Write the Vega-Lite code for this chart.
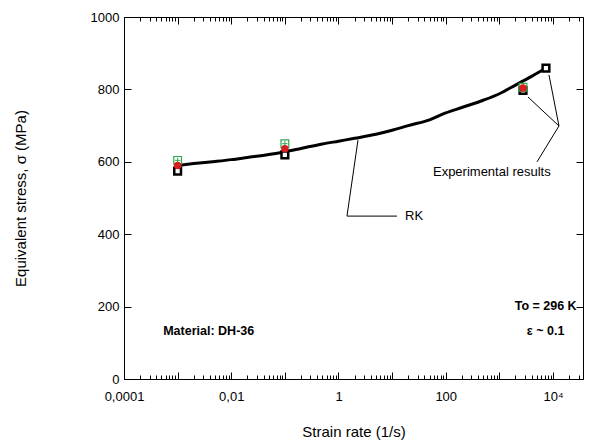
{
  "$schema": "https://vega.github.io/schema/vega-lite/v6.json",
  "width": 459,
  "height": 362,
  "autosize": "none",
  "padding": {"left": 124, "top": 17, "right": 13, "bottom": 66},
  "background": "white",
  "config": {
    "view": {"stroke": "black", "strokeWidth": 1},
    "font": "Liberation Sans",
    "axis": {"domainColor": "black", "tickColor": "black", "labelColor": "black", "titleColor": "black", "titleFontWeight": "normal", "grid": false}
  },
  "datasets": {
    "curve": [
      {"rate": 0.001, "stress": 590},
      {"rate": 0.002, "stress": 595},
      {"rate": 0.005, "stress": 601},
      {"rate": 0.01, "stress": 606},
      {"rate": 0.02, "stress": 612},
      {"rate": 0.05, "stress": 620},
      {"rate": 0.1, "stress": 628},
      {"rate": 0.2, "stress": 637},
      {"rate": 0.5, "stress": 649},
      {"rate": 1, "stress": 657},
      {"rate": 2, "stress": 665},
      {"rate": 5, "stress": 676},
      {"rate": 10, "stress": 687},
      {"rate": 20, "stress": 700},
      {"rate": 50, "stress": 716},
      {"rate": 100, "stress": 735},
      {"rate": 200, "stress": 750},
      {"rate": 500, "stress": 770},
      {"rate": 1000, "stress": 788},
      {"rate": 2000, "stress": 812},
      {"rate": 4000, "stress": 836},
      {"rate": 7400, "stress": 859}
    ],
    "green": [
      {"rate": 0.001, "stress": 604},
      {"rate": 0.1, "stress": 650},
      {"rate": 2760, "stress": 806}
    ],
    "red": [
      {"rate": 0.001, "stress": 590},
      {"rate": 0.1, "stress": 636},
      {"rate": 2760, "stress": 804}
    ],
    "black": [
      {"rate": 0.001, "stress": 574},
      {"rate": 0.1, "stress": 619},
      {"rate": 2760, "stress": 797},
      {"rate": 7400, "stress": 859}
    ],
    "leaders": [
      {"x1": 2.31, "y1": 660, "x2": 1.44, "y2": 450},
      {"x1": 1.44, "y1": 450, "x2": 12.3, "y2": 450},
      {"x1": 8420, "y1": 840, "x2": 12940, "y2": 699},
      {"x1": 3420, "y1": 779, "x2": 12940, "y2": 699},
      {"x1": 12940, "y1": 699, "x2": 5040, "y2": 600}
    ],
    "labels": [
      {"rate": 17.4, "stress": 450, "text": "RK"},
      {"rate": 57.8, "stress": 572, "text": "Experimental results"}
    ],
    "boldlabels": [
      {"rate": 7300, "stress": 202, "text": "To = 296 K"},
      {"rate": 7300, "stress": 133, "text": "ε ~ 0.1"},
      {"rate": 0.0038, "stress": 133, "text": "Material: DH-36"}
    ]
  },
  "resolve": {"axis": {"x": "independent", "y": "independent"}},
  "layer": [
    {
      "data": {"name": "curve"},
      "mark": {"type": "line", "color": "black", "strokeWidth": 3, "interpolate": "monotone"},
      "encoding": {
        "x": {
          "field": "rate", "type": "quantitative",
          "scale": {"type": "log", "domain": [0.0001, 36300], "nice": false},
          "axis": {
            "orient": "bottom",
            "title": "Strain rate (1/s)",
            "titleFontSize": 15,
            "titlePadding": 18,
            "labelFontSize": 13,
            "labelPadding": 18,
            "labelFlush": false,
            "labelOverlap": false,
            "values": [0.0001,0.0002,0.0003,0.0004,0.0005,0.0006,0.0007,0.0008,0.0009,0.001,0.002,0.003,0.004,0.005,0.006,0.007,0.008,0.009,0.01,0.02,0.03,0.04,0.05,0.06,0.07,0.08,0.09,0.1,0.2,0.3,0.4,0.5,0.6,0.7,0.8,0.9,1,2,3,4,5,6,7,8,9,10,20,30,40,50,60,70,80,90,100,200,300,400,500,600,700,800,900,1000,2000,3000,4000,5000,6000,7000,8000,9000,10000,20000,30000],
            "labelExpr": "datum.value == 0.0001 ? '0,0001' : datum.value == 0.01 ? '0,01' : datum.value == 1 ? '1' : datum.value == 100 ? '100' : datum.value == 10000 ? '10⁴' : ''",
            "tickSize": {"condition": {"test": "indexof([0.0001,0.001,0.01,0.1,1,10,100,1000,10000], datum.value) >= 0", "value": -7}, "value": -4}
          }
        },
        "y": {
          "field": "stress", "type": "quantitative",
          "scale": {"domain": [0, 1000], "nice": false},
          "axis": {
            "orient": "left",
            "title": "Equivalent stress, σ (MPa)",
            "titleFontSize": 15,
            "titlePadding": 62,
            "labelFontSize": 13,
            "labelPadding": 12,
            "labelFlush": false,
            "format": "d",
            "values": [0, 200, 400, 600, 800, 1000],
            "tickSize": -7
          }
        }
      }
    },
    {
      "data": {"name": "leaders"},
      "mark": {"type": "rule", "color": "black", "strokeWidth": 1},
      "encoding": {
        "x": {"field": "x1", "type": "quantitative", "scale": {"type": "log", "domain": [0.0001, 36300], "nice": false}, "axis": null},
        "y": {"field": "y1", "type": "quantitative", "scale": {"domain": [0, 1000], "nice": false}, "axis": null},
        "x2": {"field": "x2"},
        "y2": {"field": "y2"}
      }
    },
    {
      "data": {"name": "labels"},
      "mark": {"type": "text", "align": "left", "baseline": "middle", "fontSize": 13, "color": "black"},
      "encoding": {
        "x": {"field": "rate", "type": "quantitative", "scale": {"type": "log", "domain": [0.0001, 36300], "nice": false}, "axis": null},
        "y": {"field": "stress", "type": "quantitative", "scale": {"domain": [0, 1000], "nice": false}, "axis": null},
        "text": {"field": "text"}
      }
    },
    {
      "data": {"name": "boldlabels"},
      "mark": {"type": "text", "align": "center", "baseline": "middle", "fontSize": 12.5, "fontWeight": "bold", "color": "black"},
      "encoding": {
        "x": {"field": "rate", "type": "quantitative", "scale": {"type": "log", "domain": [0.0001, 36300], "nice": false}, "axis": null},
        "y": {"field": "stress", "type": "quantitative", "scale": {"domain": [0, 1000], "nice": false}, "axis": null},
        "text": {"field": "text"}
      }
    },
    {
      "data": {"name": "black"},
      "mark": {"type": "point", "shape": "square", "filled": false, "fill": "white", "fillOpacity": 1, "stroke": "black", "strokeWidth": 2.5, "size": 45, "opacity": 1},
      "encoding": {
        "x": {"field": "rate", "type": "quantitative", "scale": {"type": "log", "domain": [0.0001, 36300], "nice": false}, "axis": {"orient": "top", "title": null, "labels": false, "domain": false, "values": [0.0001,0.0002,0.0003,0.0004,0.0005,0.0006,0.0007,0.0008,0.0009,0.001,0.002,0.003,0.004,0.005,0.006,0.007,0.008,0.009,0.01,0.02,0.03,0.04,0.05,0.06,0.07,0.08,0.09,0.1,0.2,0.3,0.4,0.5,0.6,0.7,0.8,0.9,1,2,3,4,5,6,7,8,9,10,20,30,40,50,60,70,80,90,100,200,300,400,500,600,700,800,900,1000,2000,3000,4000,5000,6000,7000,8000,9000,10000,20000,30000], "tickSize": {"condition": {"test": "indexof([0.0001,0.001,0.01,0.1,1,10,100,1000,10000], datum.value) >= 0", "value": -7}, "value": -4}}},
        "y": {"field": "stress", "type": "quantitative", "scale": {"domain": [0, 1000], "nice": false}, "axis": {"orient": "right", "title": null, "labels": false, "domain": false, "values": [0, 200, 400, 600, 800, 1000], "tickSize": -7}}
      }
    },
    {
      "data": {"name": "green"},
      "mark": {"type": "point", "shape": "square", "filled": false, "stroke": "#2fa84f", "strokeWidth": 1.2, "size": 60, "opacity": 1},
      "encoding": {
        "x": {"field": "rate", "type": "quantitative", "scale": {"type": "log", "domain": [0.0001, 36300], "nice": false}, "axis": null},
        "y": {"field": "stress", "type": "quantitative", "scale": {"domain": [0, 1000], "nice": false}, "axis": null}
      }
    },
    {
      "data": {"name": "green"},
      "mark": {"type": "point", "shape": "M-1,0L1,0M0,-1L0,1", "filled": false, "stroke": "#2fa84f", "strokeWidth": 1, "size": 30, "opacity": 1},
      "encoding": {
        "x": {"field": "rate", "type": "quantitative", "scale": {"type": "log", "domain": [0.0001, 36300], "nice": false}, "axis": null},
        "y": {"field": "stress", "type": "quantitative", "scale": {"domain": [0, 1000], "nice": false}, "axis": null}
      }
    },
    {
      "data": {"name": "red"},
      "mark": {"type": "point", "shape": "circle", "filled": true, "color": "#d81e1e", "size": 55, "opacity": 1},
      "encoding": {
        "x": {"field": "rate", "type": "quantitative", "scale": {"type": "log", "domain": [0.0001, 36300], "nice": false}, "axis": null},
        "y": {"field": "stress", "type": "quantitative", "scale": {"domain": [0, 1000], "nice": false}, "axis": null}
      }
    }
  ]
}
